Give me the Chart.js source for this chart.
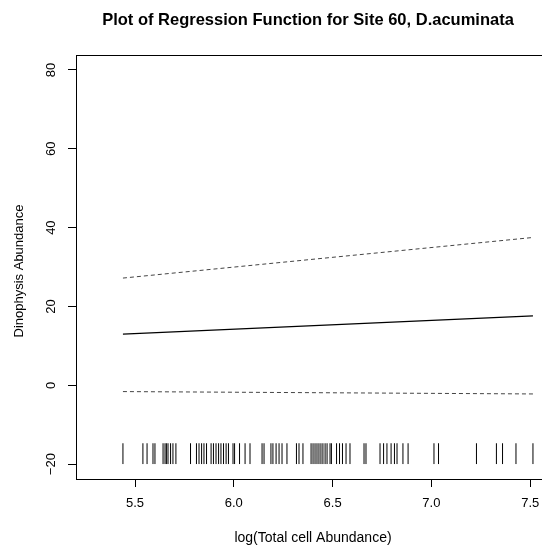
<!DOCTYPE html>
<html>
<head>
<meta charset="utf-8">
<script src="https://cdn.jsdelivr.net/npm/chart.js@4.4.1/dist/chart.umd.min.js"></script>
<style>
  html, body { margin: 0; padding: 0; background: #fff; }
  #wrap { width: 542px; height: 547px; overflow: hidden; position: relative; }
  canvas { display: block; }
</style>
</head>
<body>
<div id="wrap"><canvas id="chart" width="560" height="547"></canvas></div>
<script>
// rug of observed log(Total cell Abundance) values
const rugX = [
    5.439, 5.540, 5.561, 5.591, 5.601, 5.642, 5.652, 5.659, 5.667, 5.680, 5.692, 5.707,
    5.781, 5.811, 5.824, 5.837, 5.849, 5.862, 5.885, 5.897, 5.910, 5.923, 5.935, 5.948,
    5.961, 5.973, 5.996, 6.004, 6.029, 6.057, 6.082,
    6.143, 6.153, 6.188, 6.198, 6.214, 6.229, 6.244, 6.269, 6.317, 6.330, 6.350,
    6.391, 6.401, 6.411, 6.421, 6.431, 6.441, 6.451, 6.462, 6.472, 6.487, 6.494,
    6.520, 6.535, 6.550, 6.568, 6.588, 6.659, 6.669, 6.740, 6.758, 6.775, 6.796, 6.813,
    6.826, 6.856, 6.882, 7.013, 7.036, 7.228, 7.329, 7.360, 7.428, 7.514
];
const rugLevel = -17.35;

// regression function and its bands
const fitX = [5.439, 7.514];
const fitY = [13.0, 17.6];
const upperY = [27.2, 37.5];
const lowerY = [-1.6, -2.2];

const xTicks = [5.5, 6.0, 6.5, 7.0, 7.5];
const yTicks = [-20, 0, 20, 40, 60, 80];

const FONT = '"Liberation Sans", Arial, sans-serif';

const toPoints = (xs, ys) => xs.map((x, i) => ({ x: x, y: ys[i] }));

const framePlugin = {
    id: 'frame',
    afterDraw(chart) {
        const { ctx, chartArea: a } = chart;
        ctx.save();
        ctx.strokeStyle = '#000';
        ctx.lineWidth = 1;
        ctx.strokeRect(a.left + 0.5, a.top + 0.5, a.right - a.left, a.bottom - a.top);

        ctx.fillStyle = '#000';
        ctx.textAlign = 'center';
        ctx.textBaseline = 'middle';
        ctx.font = 'bold 16.5px ' + FONT;
        ctx.fillText('Plot of Regression Function for Site 60, D.acuminata', 308, 20);

        ctx.font = '14px ' + FONT;
        ctx.fillText('log(Total cell Abundance)', 313, 538);

        ctx.font = '13px ' + FONT;
        ctx.translate(19, 271);
        ctx.rotate(-Math.PI / 2);
        ctx.fillText('Dinophysis Abundance', 0, 0);
        ctx.restore();
    }
};

const ctx = document.getElementById('chart').getContext('2d');
new Chart(ctx, {
    type: 'scatter',
    data: {
        datasets: [
            {
                label: 'rug',
                data: rugX.map(x => ({ x: x, y: rugLevel })),
                pointStyle: 'line',
                rotation: 90,
                radius: 10.4,
                hoverRadius: 10.4,
                borderColor: '#000',
                borderWidth: 1
            },
            {
                label: 'fit',
                type: 'line',
                data: toPoints(fitX, fitY),
                borderColor: '#000',
                borderWidth: 1.3,
                pointRadius: 0,
                fill: false
            },
            {
                label: 'upper',
                type: 'line',
                data: toPoints(fitX, upperY),
                borderColor: '#444',
                borderWidth: 1,
                borderDash: [4, 3],
                pointRadius: 0,
                fill: false
            },
            {
                label: 'lower',
                type: 'line',
                data: toPoints(fitX, lowerY),
                borderColor: '#444',
                borderWidth: 1,
                borderDash: [4, 3],
                pointRadius: 0,
                fill: false
            }
        ]
    },
    options: {
        responsive: false,
        animation: false,
        events: [],
        layout: {
            autoPadding: false,
            padding: { top: 55, right: 0, left: 0, bottom: 0 }
        },
        plugins: {
            legend: { display: false },
            tooltip: { enabled: false }
        },
        scales: {
            x: {
                type: 'linear',
                min: 5.2014,
                max: 7.6508,
                border: { display: false },
                grid: {
                    drawOnChartArea: false,
                    drawTicks: true,
                    tickLength: 8,
                    tickColor: '#000'
                },
                ticks: {
                    color: '#000',
                    font: { family: FONT, size: 13 },
                    padding: 9,
                    maxRotation: 0,
                    callback: v => v.toFixed(1)
                },
                afterBuildTicks: s => { s.ticks = xTicks.map(v => ({ value: v })); },
                afterFit: s => {
                    s.height = 68;
                    s.paddingLeft = 0;
                    s.paddingRight = 0;
                }
            },
            y: {
                type: 'linear',
                min: -23.78,
                max: 83.8,
                border: { display: false },
                grid: {
                    drawOnChartArea: false,
                    drawTicks: true,
                    tickLength: 8,
                    tickColor: '#000'
                },
                ticks: {
                    color: '#000',
                    font: { family: FONT, size: 13 },
                    padding: 6,
                    minRotation: 90,
                    maxRotation: 90,
                    crossAlign: 'center',
                    callback: v => v < 0 ? '\u2212' + Math.abs(v) : String(v)
                },
                afterBuildTicks: s => { s.ticks = yTicks.map(v => ({ value: v })); },
                afterFit: s => {
                    s.width = 76;
                    s.paddingTop = 0;
                    s.paddingBottom = 0;
                }
            }
        }
    },
    plugins: [framePlugin]
});
</script>
</body>
</html>
